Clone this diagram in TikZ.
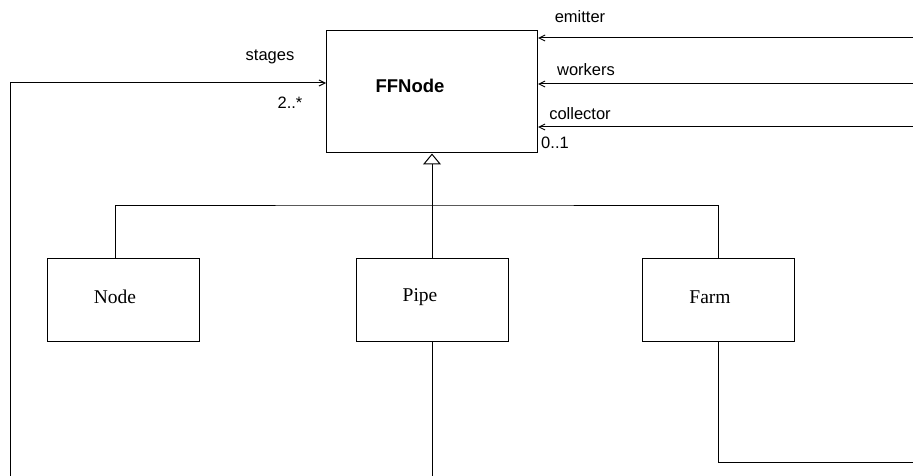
\documentclass[tikz,border=0pt]{standalone}
\usepackage{fontspec}
\setmainfont{Liberation Sans}
\newfontfamily\boxserif{Liberation Serif}
\usetikzlibrary{arrows.meta}
\begin{document}
\begin{tikzpicture}[x=1pt,y=-1pt,
  line width=1pt,
  box/.style={draw, minimum width=152pt, minimum height=83pt, inner sep=0pt},
  bigbox/.style={draw, minimum width=211pt, minimum height=122pt, inner sep=0pt},
  lbl/.style={font=\fontsize{16.5}{19}\selectfont, inner sep=0pt},
  bname/.style={font=\boxserif\fontsize{19.5}{22}\selectfont, inner sep=0pt},
  assoc/.style={-{Straight Barb[length=6pt,width=6pt,line width=1pt]}},
  inherit/.style={-{Triangle[open,length=11pt,width=18pt,line width=1pt]}}
]
\useasboundingbox (0,0) rectangle (913,476);

\node[bigbox] (ffnode) at (432,92) {};
\node[font=\fontsize{18.5}{21}\selectfont\bfseries, inner sep=0pt] (fft) at (410,86) {FFNode};

\node[box] (nodeb) at (123,299.5) {};
\node[bname] (nodet) at (115,297) {Node};
\node[box] (pipe) at (432,299.5) {};
\node[bname] (pipet) at (420,297) {Pipe};
\node[box] (farm) at (718.5,299.5) {};
\node[bname] (farmt) at (710,297) {Farm};

% inheritance
\coordinate (bar) at (432,205);
\draw ([xshift=-8pt]nodeb.north) |- (bar) -| (farm.north);
\draw[inherit] (pipe.north) -- (ffnode.south);

% stages
\coordinate (sb) at (10,476);
\draw[assoc] (sb) |- ([yshift=9pt]ffnode.west);
\node[lbl] (stages) at (270,57) {stages};
\node[lbl] (m1) at (290,103) {2..*};

% pipe down
\coordinate (pb) at (432,476);
\draw (pipe.south) -- (pb);

% farm
\coordinate (fr) at (913,462);
\draw (farm.south) |- (fr);

% right arrows
\coordinate (e1) at (913,38);
\coordinate (e2) at (913,84);
\coordinate (e3) at (913,127);
\draw[assoc] (e1) -- (e1 -| ffnode.east);
\draw[assoc] (e2) -- (e2 -| ffnode.east);
\draw[assoc] (e3) -- (e3 -| ffnode.east);
\node[lbl] (emit) at (580,17) {emitter};
\node[lbl] (work) at (586,70) {workers};
\node[lbl] (coll) at (580,114) {collector};
\node[lbl] (m2) at (555,143) {0..1};
\end{tikzpicture}
\end{document}
